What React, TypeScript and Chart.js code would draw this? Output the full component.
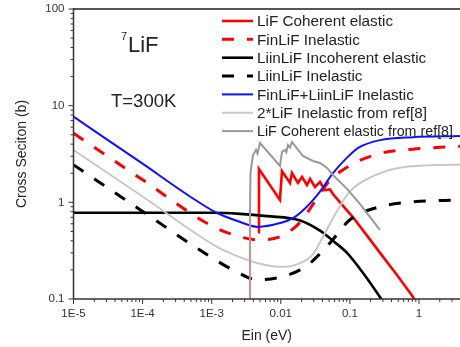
import React, { useEffect, useRef } from 'react';
import { Chart, registerables } from 'chart.js';

Chart.register(...registerables);

// ---- axis ranges & tick labels ----
const X_MIN = 1e-5;
const X_MAX = 3.92;
const Y_MIN = 0.1;
const Y_MAX = 100;
const xTickValues = [1e-5, 1e-4, 1e-3, 0.01, 0.1, 1];
const xTickLabels = ['1E-5', '1E-4', '1E-3', '0.01', '0.1', '1'];
const yTickValues = [0.1, 1, 10, 100];
const yTickLabels = ['0.1', '1', '10', '100'];

// ---- series (energy in eV, cross section in b) ----
const cohE = [0.00468, 0.00483, 0.00973, 0.0104, 0.0136, 0.0145, 0.0177, 0.0203, 0.0239, 0.0265, 0.0313, 0.0369, 0.0436, 0.0516, 0.0569, 0.0719, 0.111, 0.178, 0.273, 0.48, 0.82, 0.9];
const cohS = [0.49, 2.21, 1.06, 2.11, 1.59, 2.01, 1.59, 1.83, 1.51, 1.75, 1.44, 1.63, 1.34, 1.36, 1.22, 1.0, 0.7, 0.45, 0.3, 0.177, 0.105, 0.093];

const fInelE = [1e-5, 1e-4, 9.44e-4, 2.57e-3, 4.68e-3, 9.73e-3, 0.019, 0.0292, 0.05, 0.1, 0.273, 0.82, 3.92];
const fInelS = [5.19, 1.71, 0.585, 0.44, 0.41, 0.44, 0.62, 0.95, 1.65, 2.4, 3.2, 3.55, 3.8];

const liIncE = [1e-5, 1e-4, 1e-3, 2.57e-3, 6.3e-3, 0.019, 0.0369, 0.0569, 0.0908, 0.155, 0.272, 0.33];
const liIncS = [0.78, 0.78, 0.78, 0.76, 0.72, 0.65, 0.51, 0.4, 0.3, 0.186, 0.105, 0.085];

const liInelE = [1e-5, 1e-4, 9.44e-4, 2.03e-3, 4.68e-3, 9.73e-3, 0.019, 0.0292, 0.0515, 0.1, 0.273, 0.82, 3.92];
const liInelS = [2.44, 0.805, 0.275, 0.2, 0.158, 0.168, 0.2, 0.25, 0.38, 0.66, 0.9, 1.01, 1.06];

const sumE = [1e-5, 1e-4, 4.85e-4, 1.18e-3, 2.3e-3, 4.68e-3, 9.7e-3, 0.0152, 0.0238, 0.0369, 0.0569, 0.0908, 0.1355, 0.273, 0.82, 3.92];
const sumS = [7.7, 2.51, 1.15, 0.78, 0.645, 0.557, 0.61, 0.69, 0.9, 1.29, 2.0, 2.9, 3.7, 4.4, 4.72, 4.85];

const refInelE = [1e-5, 1e-4, 1.18e-3, 2.03e-3, 4.52e-3, 0.0108, 0.019, 0.0292, 0.0407, 0.066, 0.1, 0.195, 0.48, 1.45, 3.92];
const refInelS = [3.48, 1.148, 0.348, 0.29, 0.236, 0.215, 0.235, 0.29, 0.44, 0.83, 1.3, 1.8, 2.25, 2.42, 2.45];

const refCohE = [0.00358, 0.00358, 0.00364, 0.00396, 0.00438, 0.0046, 0.005, 0.00973, 0.0104, 0.0115, 0.012, 0.0127, 0.0136, 0.0145, 0.0209, 0.0292, 0.0369, 0.0467, 0.0569, 0.0908, 0.135, 0.272];
const refCohS = [0.09, 0.7, 2.01, 3.09, 3.48, 3.2, 4.11, 2.38, 3.32, 3.48, 3.3, 3.92, 3.7, 4.21, 3.02, 2.68, 2.55, 2.27, 1.92, 1.38, 0.99, 0.52];

const labels = [
  'LiF Coherent elastic',
  'FinLiF Inelastic',
  'LiinLiF Incoherent elastic',
  'LiinLiF Inelastic',
  'FinLiF+LiinLiF Inelastic',
  '2*LiF Inelastic from ref[8]',
  'LiF Coherent elastic from ref[8]',
];

const FONT = '"Liberation Sans", Arial, Helvetica, sans-serif';
const TEXT = '#222';

const pts = (xs: number[], ys: number[]) => xs.map((x, i) => ({ x, y: ys[i] }));

const tickLabel = (vals: number[], labs: string[]) => (value: number | string) => {
  const v = Number(value);
  for (let i = 0; i < vals.length; i++) {
    if (Math.abs(Math.log10(v) - Math.log10(vals[i])) < 1e-6) return labs[i];
  }
  return '';
};

const decor = {
  id: 'decor',
  afterDraw(chart: any) {
    const { ctx, chartArea: a, scales } = chart;
    const xs = scales.x;
    const ys = scales.y;
    const line = (x1: number, y1: number, x2: number, y2: number) => {
      ctx.beginPath();
      ctx.moveTo(x1, y1);
      ctx.lineTo(x2, y2);
      ctx.stroke();
    };
    ctx.save();
    // frame
    ctx.strokeStyle = '#555';
    ctx.lineWidth = 2;
    line(a.left, a.top, a.right, a.top);
    ctx.strokeStyle = '#333';
    ctx.lineWidth = 1.5;
    line(a.left, a.top - 1, a.left, a.bottom);
    line(a.left, a.bottom, a.right, a.bottom);
    // ticks
    ctx.lineWidth = 1;
    for (let e = -5; e <= 0; e++) {
      for (let k = 1; k <= 9; k++) {
        const v = k * Math.pow(10, e);
        if (v < X_MIN * 0.999 || v > X_MAX) continue;
        const px = xs.getPixelForValue(v);
        line(px, a.bottom, px, a.bottom + (k === 1 ? 5 : 3));
      }
    }
    for (let e = -1; e <= 2; e++) {
      for (let k = 1; k <= 9; k++) {
        const v = k * Math.pow(10, e);
        if (v < Y_MIN * 0.999 || v > Y_MAX * 1.001) continue;
        const py = ys.getPixelForValue(v);
        line(a.left, py, a.left - (k === 1 ? 5 : 3), py);
      }
    }
    // annotations
    ctx.fillStyle = TEXT;
    ctx.textBaseline = 'alphabetic';
    ctx.textAlign = 'left';
    ctx.font = `11px ${FONT}`;
    ctx.fillText('7', 121, 40);
    ctx.font = `22px ${FONT}`;
    ctx.fillText('LiF', 128, 52);
    ctx.font = `18.5px ${FONT}`;
    ctx.fillText('T=300K', 111, 107);
    // legend
    const ds = chart.data.datasets;
    ctx.font = `15.3px ${FONT}`;
    ctx.textBaseline = 'middle';
    ds.forEach((d: any, i: number) => {
      const yy = 21 + i * 18.35;
      ctx.save();
      ctx.strokeStyle = d.borderColor;
      ctx.lineWidth = d.borderWidth;
      ctx.setLineDash(d.borderDash || []);
      line(222, yy, 253, yy);
      ctx.restore();
      ctx.fillStyle = TEXT;
      ctx.fillText(d.label, 257, yy + 1, 196);
    });
    ctx.restore();
  },
};

export default function App() {
  const ref = useRef<HTMLCanvasElement | null>(null);
  useEffect(() => {
    if (!ref.current) return;
    const smooth = { cubicInterpolationMode: 'monotone' as const };
    const chart = new Chart(ref.current, {
      type: 'scatter',
      data: {
        datasets: [
          { label: labels[0], data: pts(cohE, cohS), borderColor: '#ff0000', borderWidth: 2.6, tension: 0, order: 6 },
          { label: labels[1], data: pts(fInelE, fInelS), borderColor: '#ff0000', borderWidth: 3, borderDash: [12, 13], order: 5, ...smooth },
          { label: labels[2], data: pts(liIncE, liIncS), borderColor: '#000000', borderWidth: 2.6, order: 4, ...smooth },
          { label: labels[3], data: pts(liInelE, liInelS), borderColor: '#000000', borderWidth: 3, borderDash: [12, 13], order: 3, ...smooth },
          { label: labels[4], data: pts(sumE, sumS), borderColor: '#1010ff', borderWidth: 2, order: 2, ...smooth },
          { label: labels[5], data: pts(refInelE, refInelS), borderColor: '#c8c8c8', borderWidth: 2, order: 1, ...smooth },
          {
            label: labels[6], data: pts(refCohE, refCohS), borderColor: '#999999', borderWidth: 2, tension: 0, order: 0,
            segment: { borderColor: (c: any) => (c.p0.parsed.y < 0.75 && c.p1.parsed.y < 0.75 ? '#c89090' : undefined) },
          },
        ] as any,
      },
      options: {
        responsive: false,
        animation: false,
        showLine: true,
        elements: { point: { radius: 0, hoverRadius: 0 }, line: { fill: false } },
        layout: { autoPadding: false, padding: { left: 0, top: 9, right: 0, bottom: 0 } },
        plugins: { legend: { display: false }, tooltip: { enabled: false } },
        scales: {
          x: {
            type: 'logarithmic',
            min: X_MIN,
            max: X_MAX,
            grid: { display: false, drawTicks: false },
            border: { display: false },
            ticks: { autoSkip: false, maxRotation: 0, padding: 8, color: '#333', font: { family: FONT, size: 11.5 }, callback: tickLabel(xTickValues, xTickLabels) },
            title: { display: true, text: 'Ein (eV)', color: TEXT, font: { family: FONT, size: 14 }, padding: { top: 0, bottom: 2 } },
            afterFit: (s: any) => { s.height = 48; s.paddingLeft = 0; s.paddingRight = 0; },
          },
          y: {
            type: 'logarithmic',
            min: Y_MIN,
            max: Y_MAX,
            grid: { display: false, drawTicks: false },
            border: { display: false },
            ticks: { autoSkip: false, padding: 9, color: '#333', font: { family: FONT, size: 11.5 }, callback: tickLabel(yTickValues, yTickLabels) },
            title: { display: true, text: 'Cross Seciton (b)', color: TEXT, font: { family: FONT, size: 14 }, padding: { top: 13.5, bottom: 0 } },
            afterFit: (s: any) => { s.width = 73.5; s.paddingTop = 0; s.paddingBottom = 0; },
          },
        },
      } as any,
      plugins: [decor],
    });
    return () => chart.destroy();
  }, []);
  return (
    <div style={{ position: 'absolute', left: 0, top: 0, width: 460, height: 347, background: '#fff' }}>
      <canvas ref={ref} width={460} height={347} style={{ display: 'block' }} />
    </div>
  );
}
